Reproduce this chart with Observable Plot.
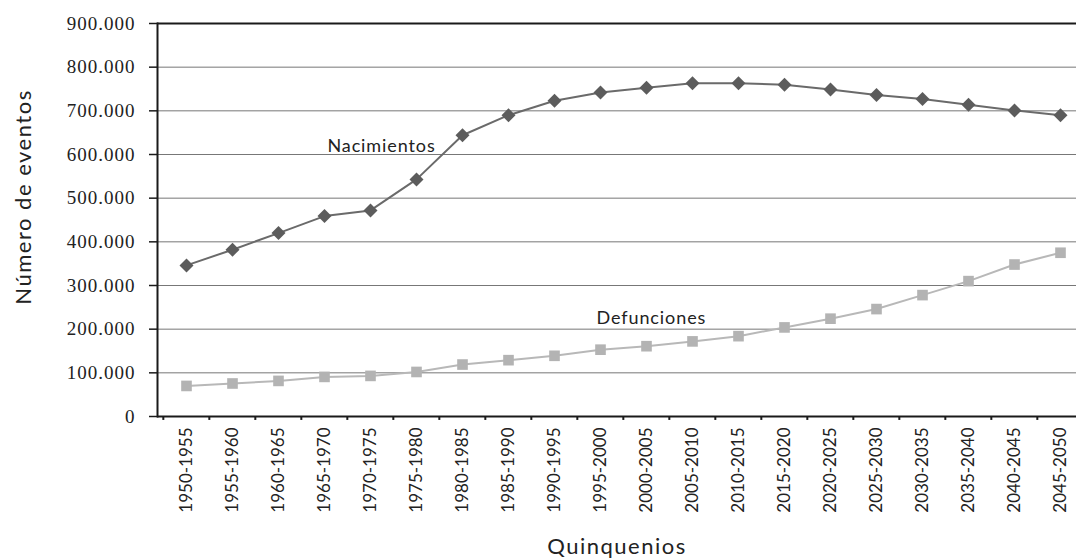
<!DOCTYPE html>
<html><head><meta charset="utf-8">
<script src="https://cdn.jsdelivr.net/npm/d3@7"></script>
<script src="https://cdn.jsdelivr.net/npm/@observablehq/plot@0.6"></script>
<style>body{margin:0;background:#fff}</style>
</head><body><div id="chart"></div>
<script>
const quinquenios = ["1950-1955","1955-1960","1960-1965","1965-1970","1970-1975","1975-1980","1980-1985","1985-1990","1990-1995","1995-2000","2000-2005","2005-2010","2010-2015","2015-2020","2020-2025","2025-2030","2030-2035","2035-2040","2040-2045","2045-2050"];
const nacimientos = [346000,382000,420000,459000,472000,543000,644000,690000,723000,742000,753000,763000,763000,760000,749000,736000,727000,714000,701000,690000];
const defunciones = [70000,75600,81500,90700,93000,102000,119000,129000,139000,153000,161000,172000,184000,204000,224000,246000,278000,310000,348000,375000];
const yTicks = [0,100000,200000,300000,400000,500000,600000,700000,800000,900000];
const gridValues = [100000,200000,300000,400000,500000,600000,700000,800000];

const nacData = quinquenios.map((q,i)=>({q, v: nacimientos[i]}));
const defData = quinquenios.map((q,i)=>({q, v: defunciones[i]}));

const fmt = d3.formatLocale({decimal: ",", thousands: ".", grouping: [3], currency: ["", ""]}).format(",");
const xRange = [159, 1086];
const bw = (xRange[1]-xRange[0]) / quinquenios.length;

const chart = Plot.plot({
  width: 1076,
  height: 560,
  marginLeft: 157,
  marginRight: 0,
  marginTop: 23,
  marginBottom: 144,
  style: {background: "#fff", color: "#222"},
  x: {type: "band", domain: quinquenios, range: xRange, padding: 0, axis: null},
  y: {domain: [0, 900000], axis: null},
  marks: [
    Plot.ruleY(gridValues, {stroke: "#777", strokeWidth: 1}),
    Plot.ruleY([900000], {stroke: "#1a1a1a", strokeWidth: 2}),
    Plot.ruleY([0], {stroke: "#1a1a1a", strokeWidth: 2}),
    Plot.frame({anchor: "left", stroke: "#1a1a1a", strokeWidth: 2}),
    Plot.ruleX(quinquenios, {x: d => d, y1: 0, y2: -9000, dx: -bw/2, stroke: "#1a1a1a", strokeWidth: 2}),
    Plot.axisY(yTicks, {tickSize: 8, tickFormat: () => "", label: null, stroke: "#1a1a1a", strokeWidth: 1.5}),
    Plot.text(yTicks, {y: d => d, text: d => fmt(d), frameAnchor: "left", dx: -22, textAnchor: "end", fontFamily: "Liberation Serif", fontSize: 19, fill: "#222"}),
    Plot.axisX({tickRotate: -90, tickSize: 0, tickPadding: 11, fontFamily: "Lato", fontSize: 17, label: null}),
    Plot.line(nacData, {x: "q", y: "v", stroke: "#6a6a6a", strokeWidth: 2}),
    Plot.dot(nacData, {x: "q", y: "v", symbol: "diamond2", r: 6.3, fill: "#5c5c5c"}),
    Plot.line(defData, {x: "q", y: "v", stroke: "#b8b8b8", strokeWidth: 2}),
    Plot.dot(defData, {x: "q", y: "v", symbol: "square", r: 6, fill: "#b3b3b3"}),
    Plot.text(["Nacimientos"], {x: () => "1970-1975", y: () => 619000, dx: 11, fontFamily: "Lato", fontSize: 18, fill: "#222"}),
    Plot.text(["Defunciones"], {x: () => "1995-2000", y: () => 225000, dx: -4, textAnchor: "start", fontFamily: "Lato", fontSize: 18, fill: "#222"}),
    Plot.text(["Número de eventos"], {frameAnchor: "left", dx: -134, dy: -23, rotate: -90, textAnchor: "middle", fontFamily: "Lato", fontSize: 22, fill: "#222"}),
    Plot.text(["Quinquenios"], {frameAnchor: "bottom", dy: 137, textAnchor: "middle", fontFamily: "Lato", fontSize: 22, fill: "#222"})
  ]
});
const s = d3.select(chart);
s.selectAll('g[aria-label="text"] text').each(function() {
  const t = this.textContent;
  const el = d3.select(this);
  if (/^[\d.]+$/.test(t)) el.style("letter-spacing", "1px");
  else if (t === "Nacimientos" || t === "Defunciones") el.style("letter-spacing", "0.9px");
  else el.style("letter-spacing", "1.5px");
});
document.getElementById("chart").appendChild(chart);
</script>
</body></html>
